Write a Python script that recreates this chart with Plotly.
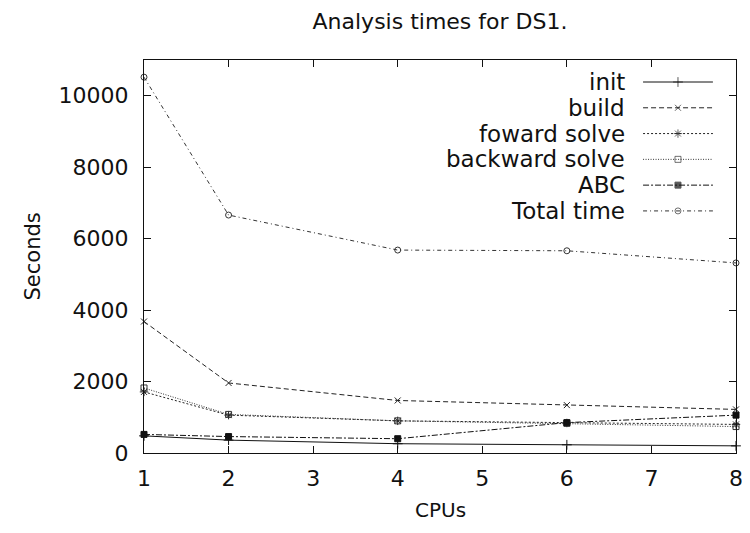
import plotly.graph_objects as go

cpus = [1, 2, 4, 6, 8]
series_names = ["init", "build", "foward solve", "backward solve", "ABC", "Total time"]
init_t = [480, 360, 260, 230, 200]
build_t = [3680, 1960, 1470, 1340, 1220]
forward_t = [1710, 1060, 900, 840, 800]
backward_t = [1820, 1080, 900, 830, 740]
abc_t = [520, 460, 400, 850, 1060]
total_t = [10520, 6660, 5680, 5660, 5320]

x_ticks = [1, 2, 3, 4, 5, 6, 7, 8]
y_ticks = [0, 2000, 4000, 6000, 8000, 10000]
y_tick_labels = ["0", "2000", "4000", "6000", "8000", "10000"]

values = [init_t, build_t, forward_t, backward_t, abc_t, total_t]
symbols = ["cross-thin-open", "x-thin-open", "asterisk-open", "square-open", "square", "circle-open"]
dashes = ["solid", "5px,3px", "2px,2px", "1px,1.5px", "6px,2px,2px,2px", "4px,3px,1px,3px"]
sizes = [7, 6, 7, 6, 6, 6]
colors = ["#111", "#222", "#222", "#333", "#111", "#333"]

FONT = "DejaVu Sans, Liberation Sans, Arial, sans-serif"
INK = "#111"

fig = go.Figure()
for name, vals, sym, dash, sz, col in zip(series_names, values, symbols, dashes, sizes, colors):
    fig.add_trace(go.Scatter(
        x=cpus, y=vals, name=name, mode="lines+markers",
        line=dict(color=col, width=1, dash=dash),
        marker=dict(symbol=sym, size=sz, color=col, line=dict(color=col, width=1)),
        showlegend=False, cliponaxis=False,
    ))

# custom gnuplot-style key: label right-aligned, sample on the right
leg_x0, leg_xm, leg_x1 = 0.843, 0.902, 0.961
leg_label_x = 0.816
leg_top = 0.944
leg_step = 0.0656
for i, (name, sym, dash, sz, col) in enumerate(zip(series_names, symbols, dashes, sizes, colors)):
    yy = leg_top - i * leg_step
    fig.add_trace(go.Scatter(
        x=[leg_x0, leg_xm, leg_x1], y=[yy, yy, yy], xaxis="x2", yaxis="y2",
        mode="lines+markers", showlegend=False, hoverinfo="skip",
        line=dict(color=col, width=1, dash=dash),
        marker=dict(symbol=sym, size=[0, sz, 0], color=col, line=dict(color=col, width=1)),
    ))
    fig.add_annotation(x=leg_label_x, y=yy, xref="x2", yref="y2", text=name,
                       showarrow=False, xanchor="right", yanchor="middle",
                       font=dict(family=FONT, size=23, color=INK))

# axis titles
fig.add_annotation(x=0.5, y=0, xref="paper", yref="paper", text="CPUs", showarrow=False,
                   xanchor="center", yanchor="middle", yshift=-57,
                   font=dict(family=FONT, size=20, color=INK))
fig.add_annotation(x=0, y=0.5, xref="paper", yref="paper", text="Seconds", showarrow=False,
                   xanchor="center", yanchor="middle", xshift=-112, textangle=-90,
                   font=dict(family=FONT, size=21, color=INK))

fig.update_layout(
    width=734, height=517,
    margin=dict(l=136, r=6, t=52, b=72),
    paper_bgcolor="white", plot_bgcolor="white",
    font=dict(family=FONT, size=22, color=INK),
    title=dict(text="Analysis times for DS1.", x=0.5, xref="paper", xanchor="center",
               y=0.975, yanchor="middle",
               font=dict(family=FONT, size=22, color=INK)),
    xaxis=dict(range=[1, 8], tickvals=x_ticks, ticks="inside", ticklen=7, tickcolor=INK,
               showline=True, linecolor=INK, linewidth=1, mirror="ticks", showgrid=False,
               zeroline=False, automargin=False, ticklabelstandoff=6,
               ticklabeloverflow="allow",
               tickfont=dict(family=FONT, size=22, color=INK)),
    yaxis=dict(range=[0, 11000], tickvals=y_ticks, ticktext=y_tick_labels, ticks="inside",
               ticklen=7, tickcolor=INK,
               showline=True, linecolor=INK, linewidth=1, mirror="ticks", showgrid=False,
               zeroline=False, automargin=False, ticklabelstandoff=10,
               ticklabeloverflow="allow",
               tickfont=dict(family=FONT, size=22, color=INK)),
    xaxis2=dict(overlaying="x", range=[0, 1], visible=False, anchor="y2"),
    yaxis2=dict(overlaying="y", range=[0, 1], visible=False, anchor="x2"),
)

fig.write_html("out.html")
